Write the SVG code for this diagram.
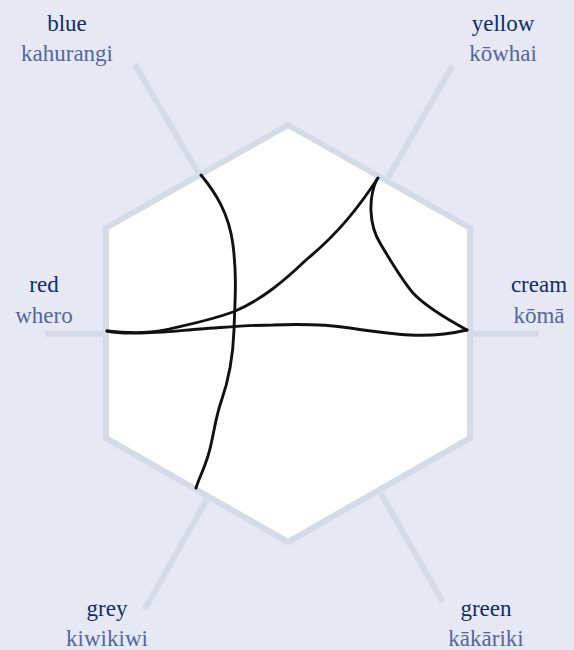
<svg xmlns="http://www.w3.org/2000/svg" width="574" height="650" viewBox="0 0 574 650">
  <style>
    text { font-family: "Liberation Serif", "DejaVu Serif", "Noto Serif", Tinos, "Times New Roman", Times, Georgia, FreeSerif, serif; font-size: 23px; text-anchor: middle; }
    .en { fill: #112d68; }
    .mi { fill: #53679c; }
    .spoke { stroke: #d4dbe7; stroke-width: 6; fill: none; }
    .ink { stroke: #111111; stroke-width: 2.9; fill: none; stroke-linecap: round; stroke-linejoin: round; }
  </style>
  <rect width="574" height="650" fill="#e6e9f4"/>
  <g id="connectors">
    <line class="spoke" x1="134.7" y1="64.3" x2="197.7" y2="172"/>
    <line class="spoke" x1="452.8" y1="65.5" x2="388" y2="177.4"/>
    <line class="spoke" x1="45" y1="333.7" x2="106" y2="333.7"/>
    <line class="spoke" x1="538.8" y1="333.7" x2="470" y2="333.7"/>
    <line class="spoke" x1="144.6" y1="609.5" x2="206.8" y2="499.6"/>
    <line class="spoke" x1="442.9" y1="602" x2="380.7" y2="493.4"/>
  </g>
  <g id="hexagon">
    <polygon points="288,125 470,228 470,438 288,542 106,438 106,228" fill="#ffffff" stroke="#d4dbe7" stroke-width="6" stroke-linejoin="miter"/>
    <path class="ink" d="M201,175 C215,192 229,213 233,245 S235,300 234,330 S227,385 221,402 S213,440 208,456 S199,478 196,488"/>
    <path class="ink" d="M378,178 C360,205 340,232 306,260 C285,280 262,300 233,312 C205,322 185,325 165,330 C145,334 125,333 107,331"/>
    <path class="ink" d="M377,179 C368,198 369,225 380,243 C390,260 402,280 413,293 C425,306 445,318 467,330"/>
    <path class="ink" d="M467,330 C450,334 430,336 410,335 C390,334 370,331 350,328 C330,325 300,324 273,325 C250,325 230,327 200,329 C175,331 150,334 130,333 C120,333 112,332 107,331"/>
  </g>
  <g id="label-blue">
    <text class="en" x="67" y="31">blue</text>
    <text class="mi" x="67" y="61">kahurangi</text>
  </g>
  <g id="label-yellow">
    <text class="en" x="503" y="31">yellow</text>
    <text class="mi" x="503" y="61">kōwhai</text>
  </g>
  <g id="label-red">
    <text class="en" x="44" y="292">red</text>
    <text class="mi" x="44" y="323">whero</text>
  </g>
  <g id="label-cream">
    <text class="en" x="539" y="292">cream</text>
    <text class="mi" x="539" y="323">kōmā</text>
  </g>
  <g id="label-grey">
    <text class="en" x="107" y="616">grey</text>
    <text class="mi" x="107" y="646">kiwikiwi</text>
  </g>
  <g id="label-green">
    <text class="en" x="486" y="616">green</text>
    <text class="mi" x="486" y="646">kākāriki</text>
  </g>
</svg>
